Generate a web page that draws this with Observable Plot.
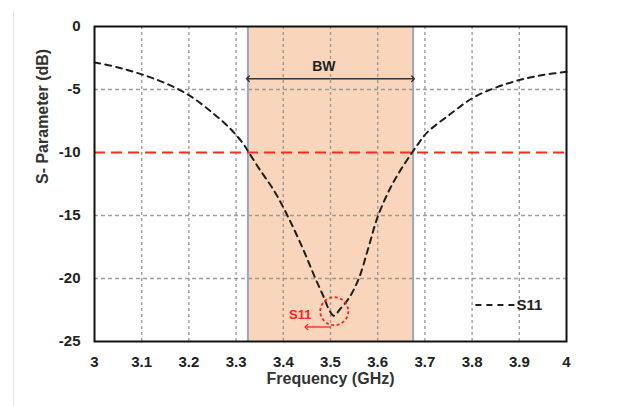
<!DOCTYPE html>
<html><head><meta charset="utf-8">
<script src="https://cdn.jsdelivr.net/npm/d3@7"></script>
<script src="https://cdn.jsdelivr.net/npm/@observablehq/plot@0.6"></script>
<style>
body{margin:0;background:#fff;}
#wrap{position:relative;width:641px;height:406px;}
#edge{position:absolute;left:13px;top:11px;bottom:0;width:1px;background:#e4e4e4;}
svg{font-family:"Liberation Sans",Arial,sans-serif;}
</style></head><body><div id="wrap"><div id="edge"></div></div>
<script>
// S11 response
const freqGHz = [3.0,3.05,3.1,3.15,3.2,3.25,3.29,3.315,3.327,3.35,3.38,3.41,3.44,3.468,3.486,3.496,3.507,3.521,3.54,3.56,3.58,3.6,3.627,3.65,3.673,3.687,3.705,3.754,3.8,3.85,3.9,3.95,4.0];
const s11dB   = [-2.85,-3.25,-3.8,-4.5,-5.45,-6.85,-8.2,-9.3,-10,-11.35,-13.0,-15.1,-17.5,-20.0,-21.5,-22.4,-22.95,-22.4,-21.5,-20.0,-17.6,-15.1,-12.8,-11.3,-10,-9.25,-8.4,-6.95,-5.7,-4.85,-4.25,-3.85,-3.6];

// axes
const xDomain = [3, 4];
const yDomain = [-25, 0];
const xTicks = [3,3.1,3.2,3.3,3.4,3.5,3.6,3.7,3.8,3.9,4];
const yTicks = [0,-5,-10,-15,-20,-25];
const xGrid = [3.1,3.2,3.3,3.4,3.5,3.6,3.7,3.8,3.9];
const yGrid = [-5,-15,-20];
const xLabel = "Frequency (GHz)";
const yLabel = "S- Parameter (dB)";

// annotations
const threshold = [-10];
const bwBand = [3.325, 3.675];
const bwCenter = [3.5];
const bwArrowY = [-4.15];
const bwText = ["BW"];
const bwTextPos = [3.486, -3.2];
const dipCircle = [3.508, -22.6];
const dipText = ["S11"];
const dipTextPos = [3.436, -22.9];
const dipArrow = [3.5, 3.449, -23.85];
const legendText = ["S11"];
const legendLine = [3.807, 3.89, -22.1];
const legendTextX = [3.894];

const curve = freqGHz.map((f, i) => ({f, v: s11dB[i]}));
const font = {fontFamily: "Liberation Sans", fontWeight: "bold"};

const chart = Plot.plot({
  width: 641, height: 406,
  marginLeft: 94, marginRight: 75, marginTop: 26, marginBottom: 65,
  x: {domain: xDomain},
  y: {domain: yDomain},
  marks: [
    Plot.rect([bwBand], {x1: d => d[0], x2: d => d[1], y1: yDomain[0], y2: yDomain[1], fill: "#f9d6bb"}),
    Plot.ruleX(xGrid, {stroke: "#8e8e8e", strokeWidth: 1.4, strokeDasharray: "3,3", strokeOpacity: 0.85}),
    Plot.ruleY(yGrid, {stroke: "#8e8e8e", strokeWidth: 1.3, strokeDasharray: "4,3", strokeOpacity: 0.85}),
    Plot.ruleX(bwBand, {stroke: "#97a7c6", strokeWidth: 2}),
    Plot.ruleY(threshold, {stroke: "#ff2a1a", strokeWidth: 2.2, strokeDasharray: "11,6"}),
    Plot.line(curve, {x: "f", y: "v", stroke: "#1e1e1e", strokeWidth: 2, strokeDasharray: "6,5", curve: "catmull-rom"}),
    // BW arrow
    Plot.link([bwBand[0], bwBand[1]], {x1: bwCenter[0], x2: d => d, y1: bwArrowY[0], y2: bwArrowY[0], stroke: "#333", strokeWidth: 1.4, markerEnd: "arrow"}),
    Plot.text(bwText, {x: bwTextPos[0], y: bwTextPos[1], fontSize: 14, fill: "#222", ...font}),
    // dip annotation
    Plot.dot([dipCircle], {x: d => d[0], y: d => d[1], r: 14, stroke: "#ff2020", strokeWidth: 1.8, strokeDasharray: "3,2.5", fill: "none"}),
    Plot.link([dipArrow], {x1: d => d[0], x2: d => d[1], y1: d => d[2], y2: d => d[2], stroke: "#ff2020", strokeWidth: 1.3, markerEnd: "arrow"}),
    Plot.text(dipText, {x: dipTextPos[0], y: dipTextPos[1], fontSize: 13, fill: "#ff2020", ...font}),
    // legend
    Plot.link([legendLine], {x1: d => d[0], x2: d => d[1], y1: d => d[2], y2: d => d[2], stroke: "#1e1e1e", strokeWidth: 2, strokeDasharray: "6,5"}),
    Plot.text(legendText, {x: legendTextX[0], y: legendLine[2], textAnchor: "start", fontSize: 15, fill: "#222", ...font}),
    Plot.frame({stroke: "#111", strokeWidth: 2}),
    Plot.axisX(xTicks, {tickSize: 0, tickPadding: 15, fontSize: 15, fill: "#222", tickFormat: d => String(d), label: null, ...font}),
    Plot.axisY(yTicks, {tickSize: 0, tickPadding: 14, fontSize: 15, fill: "#222", tickFormat: d => String(d), label: null, ...font}),
    Plot.text([xLabel], {frameAnchor: "bottom", dy: 42, fontSize: 16, fill: "#333", ...font}),
    Plot.text([yLabel], {frameAnchor: "left", dx: -52, rotate: -90, fontSize: 16, fill: "#333", ...font})
  ]
});
document.getElementById("wrap").appendChild(chart);
chart.style.position = "absolute"; chart.style.left = "0"; chart.style.top = "0";
</script></body></html>
